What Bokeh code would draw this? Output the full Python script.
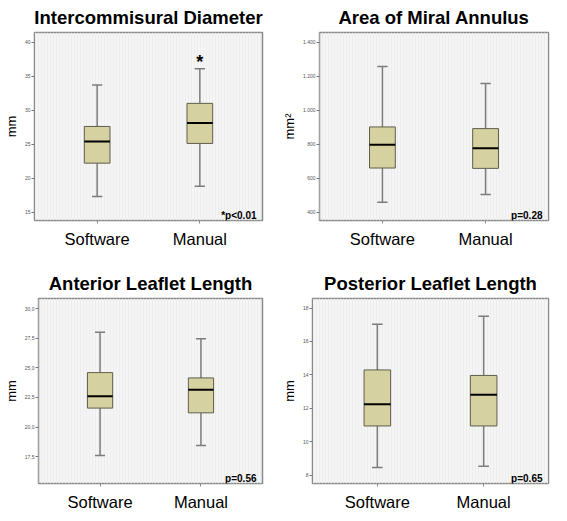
from bokeh.plotting import figure
from bokeh.models import Range1d, FixedTicker, Label, BoxAnnotation
from bokeh.layouts import column, row
from bokeh.core.properties import value
from bokeh.embed import file_html
from bokeh.resources import INLINE

groups = ["Software", "Manual"]
xpos = [1, 2]

# Intercommisural diameter (mm)
icd_low = [17.3, 18.8]
icd_q1 = [22.2, 25.1]
icd_med = [25.4, 28.1]
icd_q3 = [27.6, 31.0]
icd_high = [33.7, 36.1]
icd_star = ["", "*"]
icd_ticks = [15, 20, 25, 30, 35, 40]
icd_labels = ["15", "20", "25", "30", "35", "40"]

# Area of mitral annulus (mm2)
area_low = [457, 503]
area_q1 = [659, 657]
area_med = [796, 775]
area_q3 = [901, 891]
area_high = [1257, 1156]
area_ticks = [400, 600, 800, 1000, 1200, 1400]
area_labels = ["400", "600", "800", "1.000", "1.200", "1.400"]

# Anterior leaflet length (mm)
ant_low = [17.6, 18.45]
ant_q1 = [21.6, 21.2]
ant_med = [22.6, 23.15]
ant_q3 = [24.6, 24.15]
ant_high = [28.0, 27.45]
ant_ticks = [17.5, 20, 22.5, 25, 27.5, 30]
ant_labels = ["17,5", "20,0", "22,5", "25,0", "27,5", "30,0"]

# Posterior leaflet length (mm)
post_low = [8.46, 8.54]
post_q1 = [10.95, 10.95]
post_med = [12.25, 12.82]
post_q3 = [14.3, 13.97]
post_high = [17.03, 17.51]
post_ticks = [8, 10, 12, 14, 16, 18]
post_labels = ["8", "10", "12", "14", "16", "18"]

titles = ["Intercommisural Diameter", "Area of Miral Annulus",
          "Anterior Leaflet Length", "Posterior Leaflet Length"]
ylabels = ["mm", "mm\u00b2", "mm", "mm"]
notes = ["*p<0.01", "p=0.28", "p=0.56", "p=0.65"]

FONT = "Liberation Sans"
BOX_W = 0.25
CAP_W = 0.1
X0, X1 = 0.39, 2.61


def panel(title, ylabel, low, q1, med, q3, high, ticks, labels, yr, note,
          w, h, bl, br, bt, bb, star=None):
    p = figure(width=w, height=h, output_backend="svg", toolbar_location=None,
               x_range=Range1d(X0, X1), y_range=Range1d(*yr),
               min_border_left=bl, min_border_right=br,
               min_border_top=bt, min_border_bottom=bb,
               background_fill_color="#f5f5f5", border_fill_color="white",
               outline_line_color="#8a8a8a", outline_line_width=1.5)
    p.title.text = title
    p.title.text_font = FONT
    p.title.text_font_size = "18.5px"
    p.title.text_font_style = "bold"
    p.title.text_color = "black"
    p.title.align = "center"
    p.title.standoff = 9
    p.grid.visible = False

    p.add_layout(BoxAnnotation(fill_color=None, line_color=None,
                               hatch_pattern="vertical_line", hatch_color="#ededed",
                               hatch_scale=3, hatch_weight=1, level="underlay"))

    # whiskers
    p.segment(x0=xpos, x1=xpos, y0=q3, y1=high, line_color="#7c7c7c", line_width=1.5)
    p.segment(x0=xpos, x1=xpos, y0=q1, y1=low, line_color="#7c7c7c", line_width=1.5)
    cap_l = [x - CAP_W / 2 for x in xpos]
    cap_r = [x + CAP_W / 2 for x in xpos]
    p.segment(x0=cap_l, x1=cap_r, y0=high, y1=high, line_color="#7c7c7c", line_width=1.5)
    p.segment(x0=cap_l, x1=cap_r, y0=low, y1=low, line_color="#7c7c7c", line_width=1.5)
    # boxes
    p.vbar(x=xpos, width=BOX_W, bottom=q1, top=q3, fill_color="#d5d1a1",
           line_color="#5e5e4c", line_width=1)
    box_l = [x - BOX_W / 2 for x in xpos]
    box_r = [x + BOX_W / 2 for x in xpos]
    p.segment(x0=box_l, x1=box_r, y0=med, y1=med, line_color="black", line_width=2)

    if star is not None:
        p.text(x=xpos, y=high, text=star, text_align="center", text_baseline="alphabetic",
               text_font=value(FONT), text_font_size="18px",
               text_font_style="bold", text_color="black", y_offset=-7)

    p.add_layout(Label(x=X1, y=yr[0], text=note, x_offset=-6, y_offset=5,
                       text_align="right", text_baseline="alphabetic",
                       text_font=FONT, text_font_size="10px", text_font_style="bold",
                       text_color="black"))

    xa = p.xaxis[0]
    xa.ticker = FixedTicker(ticks=xpos)
    xa.major_label_overrides = {x: g for x, g in zip(xpos, groups)}
    xa.major_label_text_font = FONT
    xa.major_label_text_font_size = "16.5px"
    xa.major_label_text_color = "black"
    xa.major_tick_out = 3
    xa.major_tick_in = 0
    xa.major_tick_line_color = "#8a8a8a"
    xa.minor_tick_line_color = None
    xa.axis_line_color = None
    xa.major_label_standoff = 6

    ya = p.yaxis[0]
    ya.ticker = FixedTicker(ticks=ticks)
    ya.major_label_overrides = {t: l for t, l in zip(ticks, labels)}
    ya.major_label_text_font = FONT
    ya.major_label_text_font_size = "5px"
    ya.major_label_text_color = "#555555"
    ya.major_tick_out = 3
    ya.major_tick_in = 0
    ya.major_tick_line_color = "#777777"
    ya.minor_tick_line_color = None
    ya.axis_line_color = None
    ya.major_label_standoff = 1
    ya.axis_label = ylabel
    ya.axis_label_text_font = FONT
    ya.axis_label_text_font_size = "13px"
    ya.axis_label_text_font_style = "normal"
    ya.axis_label_text_color = "black"
    ya.axis_label_standoff = 3
    return p


p1 = panel(titles[0], ylabels[0], icd_low, icd_q1, icd_med, icd_q3, icd_high,
           icd_ticks, icd_labels, (13.76, 41.43), notes[0], 278, 250, 27, 16, 29, 30,
           star=icd_star)
p2 = panel(titles[1], ylabels[1], area_low, area_q1, area_med, area_q3, area_high,
           area_ticks, area_labels, (350, 1457), notes[1], 273, 250, 36, 3, 29, 30)
p3 = panel(titles[2], ylabels[2], ant_low, ant_q1, ant_med, ant_q3, ant_high,
           ant_ticks, ant_labels, (15.23, 30.86), notes[2], 278, 263, 27, 16, 48, 29)
p4 = panel(titles[3], ylabels[3], post_low, post_q1, post_med, post_q3, post_high,
           post_ticks, post_labels, (7.51, 18.57), notes[3], 273, 263, 34, 3, 48, 29)

layout = column(row(p1, p2), row(p3, p4))
open("out.html", "w").write(file_html(layout, INLINE))
